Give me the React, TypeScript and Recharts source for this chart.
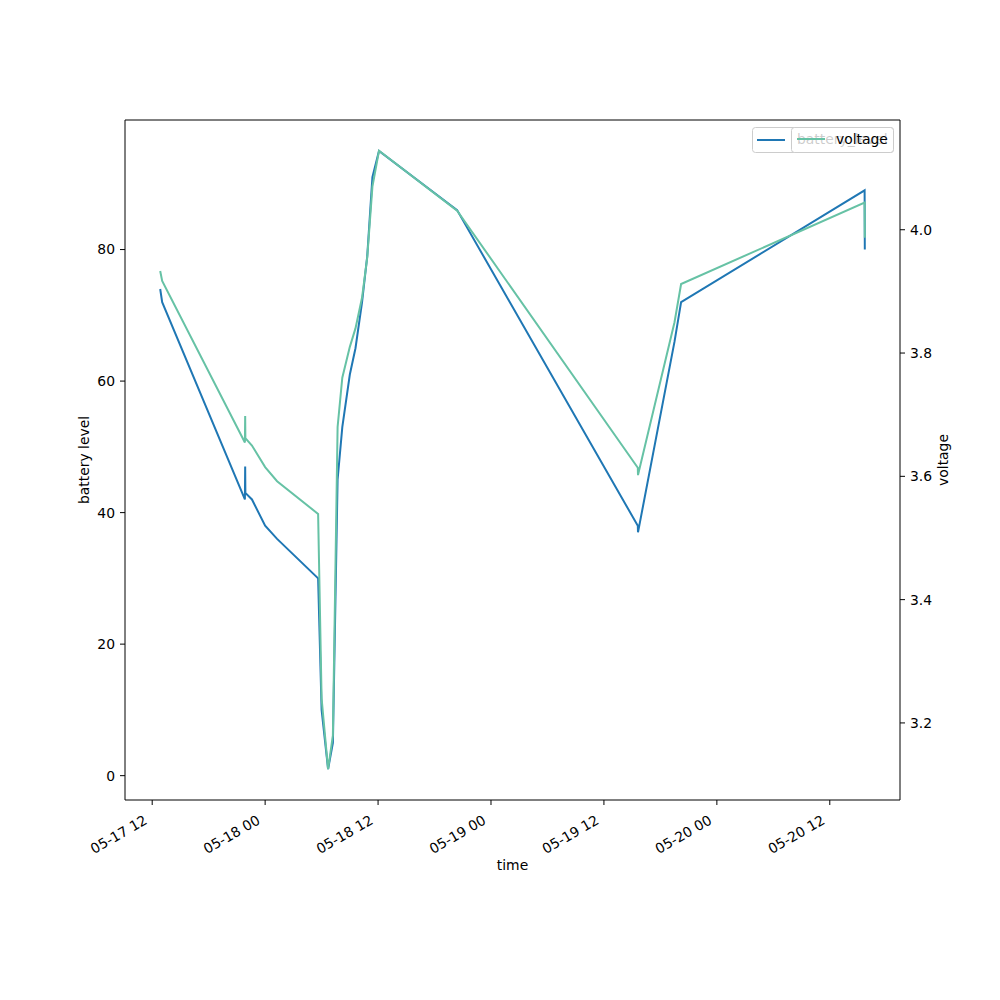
import React from "react";
import {
  LineChart,
  Line,
  XAxis,
  YAxis,
  Legend,
  ReferenceLine,
} from "recharts";

// hours since 05-17 00:00
const times = [
  12.85, 13.06, 21.85, 21.88, 21.9, 22.6, 24.0, 25.27, 29.63, 30.0, 30.69, 31.2,
  31.7, 32.2, 33.0, 33.6, 34.3, 34.85, 35.4, 36.1, 44.4, 63.6, 63.62, 67.5,
  68.2, 87.7, 87.72,
];
const batteryLevel = [
  74, 72, 42, 47, 43, 42, 38, 36, 30, 10, 1, 5, 45, 53, 61, 65, 72, 79, 91, 95,
  86, 38, 37, 66, 72, 89, 80,
];
const voltage = [
  3.933, 3.917, 3.655, 3.698, 3.662, 3.65, 3.615, 3.592, 3.539, 3.24, 3.125,
  3.18, 3.68, 3.76, 3.81, 3.84, 3.89, 3.955, 4.07, 4.128, 4.031, 3.614, 3.602,
  3.85, 3.912, 4.044, 3.987,
];
const xTicks = [12, 24, 36, 48, 60, 72, 84];
const leftTicks = [0, 20, 40, 60, 80];
const rightTicks = [3.2, 3.4, 3.6, 3.8, 4.0];

const data = times.map((t, i) => ({
  t,
  battery_level: batteryLevel[i],
  voltage: voltage[i],
}));

const FONT = "DejaVu Sans";
const FS = 13.9;
const LEFT_MAX = 99.7;

const fmtTime = (h: number) => {
  const day = 17 + Math.floor(h / 24);
  const hr = Math.round(h % 24);
  return `05-${day} ${String(hr).padStart(2, "0")}`;
};

const XTick = (props: any) => {
  const { x, payload } = props;
  return (
    <g transform={`translate(${x},${800})`}>
      <text
        x={0}
        y={0}
        transform="translate(-4,23) rotate(-30)"
        textAnchor="end"
        fontFamily={FONT}
        fontSize={FS}
        fill="#000"
      >
        {fmtTime(payload.value)}
      </text>
    </g>
  );
};

const LegendContent = () => (
  <svg width={1000} height={60} style={{ overflow: "visible" }}>
    <rect x={752.5} y={127.5} width={141} height={25} rx={3} fill="#fff" fillOpacity={0.8} stroke="#cccccc" />
    <line x1={757} y1={140} x2={785} y2={140} stroke="#1f77b4" strokeWidth={2} />
    <text x={797} y={144} fontFamily={FONT} fontSize={FS} fill="#000">battery_level</text>
    <rect x={791.5} y={127.5} width={102} height={25} rx={3} fill="#fff" fillOpacity={0.8} stroke="#cccccc" />
    <line x1={797} y1={139} x2={825} y2={139} stroke="#66c2a5" strokeWidth={2} />
    <text x={836} y={144} fontFamily={FONT} fontSize={FS} fill="#000">voltage</text>
  </svg>
);

export default function App() {
  return (
    <div style={{ position: "absolute", left: 0, top: 0, width: 1000, height: 1000, background: "#fff" }}>
      <LineChart
        width={1000}
        height={1000}
        data={data}
        margin={{ top: 120, right: 40, left: 65, bottom: 100 }}
      >
        <XAxis
          dataKey="t"
          type="number"
          domain={[9.11, 91.46]}
          ticks={xTicks}
          allowDataOverflow
          height={100}
          tick={<XTick />}
          tickSize={5}
          tickLine={{ stroke: "#000" }}
          axisLine={{ stroke: "#000" }}
          label={{ value: "time", position: "insideTop", dy: 55, fontFamily: FONT, fontSize: FS, fill: "#000" }}
        />
        <YAxis
          yAxisId="left"
          type="number"
          domain={[-3.7, LEFT_MAX]}
          ticks={leftTicks}
          allowDataOverflow
          width={60}
          tickSize={5}
          tickMargin={5}
          tickLine={{ stroke: "#000" }}
          axisLine={{ stroke: "#000" }}
          tick={{ fontFamily: FONT, fontSize: FS, fill: "#000" }}
          label={{ value: "battery level", angle: -90, position: "insideLeft", dx: 14, fontFamily: FONT, fontSize: FS, fill: "#000", style: { textAnchor: "middle" } }}
        />
        <YAxis
          yAxisId="right"
          orientation="right"
          type="number"
          domain={[3.075, 4.178]}
          ticks={rightTicks}
          allowDataOverflow
          width={60}
          tickSize={5}
          tickMargin={5}
          tickFormatter={(v: number) => v.toFixed(1)}
          tickLine={{ stroke: "#000" }}
          axisLine={{ stroke: "#000" }}
          tick={{ fontFamily: FONT, fontSize: FS, fill: "#000" }}
          label={{ value: "voltage", angle: -90, position: "insideRight", dx: -12, fontFamily: FONT, fontSize: FS, fill: "#000", style: { textAnchor: "middle" } }}
        />
        <ReferenceLine yAxisId="left" y={LEFT_MAX} stroke="#000" strokeWidth={1} ifOverflow="extendDomain" />
        <Line
          yAxisId="left"
          type="linear"
          dataKey="battery_level"
          stroke="#1f77b4"
          strokeWidth={2}
          dot={false}
          isAnimationActive={false}
        />
        <Line
          yAxisId="right"
          type="linear"
          dataKey="voltage"
          stroke="#66c2a5"
          strokeWidth={2}
          dot={false}
          isAnimationActive={false}
        />
        <Legend
          content={<LegendContent />}
          wrapperStyle={{ position: "absolute", left: 0, top: 0, width: 1000, height: 0 }}
        />
      </LineChart>
    </div>
  );
}
